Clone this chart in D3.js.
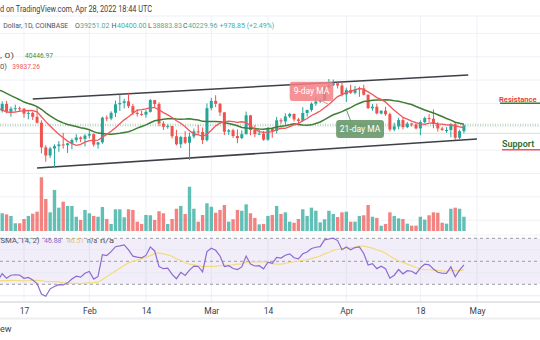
<!DOCTYPE html>
<html><head><meta charset="utf-8">
<script src="https://cdn.jsdelivr.net/npm/d3@7"></script>
<style>html,body{margin:0;padding:0;background:#fff;overflow:hidden}svg{display:block;font-family:Roboto,"Liberation Sans",sans-serif}</style>
</head><body><svg id="c" width="540" height="340"></svg>
<script>
// ---------- DATA ----------
const dates = [
"2022-01-12","2022-01-13","2022-01-14","2022-01-15","2022-01-16","2022-01-17","2022-01-18","2022-01-19","2022-01-20","2022-01-21",
"2022-01-22","2022-01-23","2022-01-24","2022-01-25","2022-01-26","2022-01-27","2022-01-28","2022-01-29","2022-01-30","2022-01-31",
"2022-02-01","2022-02-02","2022-02-03","2022-02-04","2022-02-05","2022-02-06","2022-02-07","2022-02-08","2022-02-09","2022-02-10",
"2022-02-11","2022-02-12","2022-02-13","2022-02-14","2022-02-15","2022-02-16","2022-02-17","2022-02-18","2022-02-19","2022-02-20",
"2022-02-21","2022-02-22","2022-02-23","2022-02-24","2022-02-25","2022-02-26","2022-02-27","2022-02-28",
"2022-03-01","2022-03-02","2022-03-03","2022-03-04","2022-03-05","2022-03-06","2022-03-07","2022-03-08","2022-03-09","2022-03-10",
"2022-03-11","2022-03-12","2022-03-13","2022-03-14","2022-03-15","2022-03-16","2022-03-17","2022-03-18","2022-03-19","2022-03-20",
"2022-03-21","2022-03-22","2022-03-23","2022-03-24","2022-03-25","2022-03-26","2022-03-27","2022-03-28","2022-03-29","2022-03-30","2022-03-31",
"2022-04-01","2022-04-02","2022-04-03","2022-04-04","2022-04-05","2022-04-06","2022-04-07","2022-04-08","2022-04-09","2022-04-10",
"2022-04-11","2022-04-12","2022-04-13","2022-04-14","2022-04-15","2022-04-16","2022-04-17","2022-04-18","2022-04-19","2022-04-20",
"2022-04-21","2022-04-22","2022-04-23","2022-04-24","2022-04-25","2022-04-26","2022-04-27","2022-04-28"];

const opens = [
42735,43920,42590,43100,43180,43110,42250,42380,41700,40700,36470,35075,36280,36680,36970,36850,37170,37730,38160,37920,
38490,38740,36950,37330,41570,41410,42400,43850,44080,44370,43530,42400,42200,42070,42560,44580,43900,40560,40000,40120,38380,37010,38250,37260,38340,39220,39120,37710,
43190,44440,43930,42460,39150,39400,38420,38060,38730,41960,39440,38730,38810,37790,39670,39280,41110,40920,41770,42200,41260,41000,42370,42890,43960,44330,44520,46820,47130,47450,47070,
45530,46290,45810,46400,46580,45500,43170,43440,42280,42760,42160,39530,40070,41150,39940,40550,40400,39720,40800,41500,41370,40480,39710,39440,39450,40440,38120,39251.02];

const highs = [
44350,44450,43450,43800,43480,43200,42700,42580,43500,41100,36850,36560,37000,37550,38950,37250,38000,38730,38360,38740,
39270,38860,37400,41720,41950,42660,44500,45500,44800,45850,43920,43000,42750,42880,44750,44600,44200,40970,40450,40160,39480,38450,39250,39000,39700,40300,39870,44000,
44950,45400,44100,42520,39620,39670,39560,39380,42600,42040,40260,39450,39290,39930,39880,41700,41470,42320,42400,42290,41550,43360,42900,44200,45100,44810,46930,48190,48100,47700,47620,
46700,47220,47000,46890,47200,45520,43900,43950,42800,43430,42420,40700,41550,41500,40850,40700,40600,41100,41750,42200,42980,40800,39990,39940,40620,40800,39480,40400];

const lows = [
42450,42310,41730,42580,42600,41550,41270,41150,40560,35440,34020,34630,32950,35720,36250,35510,36160,37350,37360,36630,
38000,36600,36250,37070,40950,41120,41650,42700,43150,43200,42020,41770,41880,41570,42440,43330,40100,39460,39650,38020,36800,36360,37050,34320,38000,38600,37030,37450,
42820,43350,41850,38600,38600,38100,37180,37880,38660,38550,38240,38660,37600,37600,38120,38850,40500,40140,41500,40900,40500,40860,41750,42590,43580,44100,44420,46650,46950,46570,45200,
44250,45620,45550,45130,45360,43100,42750,42130,42120,41870,39210,39250,39560,39550,39770,40030,39550,38540,40580,40830,39750,39170,39290,38950,38200,37710,37880,38883.83];

const closes = [
43920,42590,43100,43180,43110,42250,42380,41700,40700,36470,35075,36280,36680,36970,36850,37170,37730,38160,37920,38490,
38740,36950,37330,41570,41410,42400,43850,44080,44370,43530,42400,42200,42070,42560,44580,43900,40560,40000,40120,38380,37010,38250,37260,38340,39220,39120,37710,43190,
44440,43930,42460,39150,39400,38420,38060,38730,41960,39440,38730,38810,37790,39670,39280,41110,40920,41770,42200,41260,41000,42370,42890,43960,44330,44520,46820,47130,47450,47070,45530,
46290,45810,46400,46580,45500,43170,43440,42280,42760,42160,39530,40070,41150,39940,40550,40400,39720,40800,41500,41370,40480,39710,39470,39450,40440,38120,39250,40229.96];

// volume, thousand BTC
const volumes = [
13.3,12.5,11.3,5.8,5.8,9,11.3,13,14.5,40.3,24,14,30.8,17.5,22,18.8,18.8,10.7,8.3,15.8,
13.3,11.3,10.7,18,9,5.3,16.3,16.3,10.3,16.3,15.8,7,5.3,12,11.8,8.3,14.8,13.3,5.3,9,16.7,18.8,12.8,33.2,16.7,7,12,20.8,
18.2,13.7,15.8,19.5,7,8.8,15.8,15.2,20,13.3,9.8,5,5.3,11.3,12,18.8,12.8,14,7,6.2,9,16.3,11.3,17.5,15.2,6.5,8.8,15.2,12.8,10.5,14,
14.5,7,7,11.3,11.8,19.5,10.7,9.8,4,5.3,14,11.3,9.5,9,5.5,4,4,10.7,8.5,11.8,14,13.7,6.2,5.5,16.7,17.5,16.7,10.7];

// closes before the first drawn candle (Dec 1 – Jan 11), for the moving averages / RSI
const historyCloses = [57230,56510,53600,49200,49400,50590,50620,50500,47650,47140,49390,50110,46700,48350,48860,47630,46130,46830,46680,46900,48930,48630,50800,50820,50430,50800,50640,47540,46470,47120,46210,47740,47310,46450,45830,43430,43080,41560,41730,41860,41830,42740];

const tickDates = ["2022-01-17","2022-02-01","2022-02-14","2022-03-01","2022-03-14","2022-04-01","2022-04-18","2022-05-01"];
const tickLabels = ["17","Feb","14","Mar","14","Apr","18","May"];
const priceGrid = [24000,28000,32000,36000,40000,44000,48000,52000,56000];
const rsiGrid = [20,40,60];
const rsiBands = [70,50,30];
const upperChannel = [["2022-01-19",44760],["2022-04-29",48880]];
const lowerChannel = [["2022-01-20",32940],["2022-05-01",37900]];
const priceLines = [40446.97,40229.96];
const levelLine = 38880;

// ---------- SETUP ----------
const svg = d3.select("#c");
const W = 540;
const parse = d3.utcParse("%Y-%m-%d");
const D = dates.map(parse);
const x = d3.scaleUtc().domain([parse("2022-01-17"), parse("2022-05-01")]).range([24, 477]);
const y = d3.scaleLinear().domain([32000, 56000]).range([173.46, 33.43]);
const yV = d3.scaleLinear().domain([0, 60]).range([231, 151]);
const yR = d3.scaleLinear().domain([30, 70]).range([284.3, 238.3]);

const UP = "#26a69a", DN = "#ef5350";
const defs = svg.append("defs");
defs.append("clipPath").attr("id","cp").append("rect").attr("x",0).attr("y",16).attr("width",W).attr("height",218);
defs.append("clipPath").attr("id","cr").append("rect").attr("x",0).attr("y",236).attr("width",W).attr("height",65);

const histDates = historyCloses.map((_, k) => d3.utcDay.offset(D[0], k - historyCloses.length));
const allDates = histDates.concat(D);
const allCloses = historyCloses.concat(closes);
function sma(arr, n) {
  return arr.map((_, i) => {
    if (i < n - 1 || arr[i] == null) return null;
    const s = arr.slice(i - n + 1, i + 1);
    if (s.some(v => v == null)) return null;
    return d3.mean(s);
  });
}
function rsi(arr, n) {
  const out = arr.map(() => null);
  let g = 0, l = 0;
  for (let i = 1; i <= n; i++) { const d = arr[i] - arr[i-1]; if (d > 0) g += d; else l -= d; }
  g /= n; l /= n; out[n] = 100 - 100 / (1 + g / l);
  for (let i = n + 1; i < arr.length; i++) {
    const d = arr[i] - arr[i-1];
    g = (g * (n - 1) + Math.max(d, 0)) / n;
    l = (l * (n - 1) + Math.max(-d, 0)) / n;
    out[i] = l === 0 ? 100 : 100 - 100 / (1 + g / l);
  }
  return out;
}
const ma9 = sma(allCloses, 9), ma21 = sma(allCloses, 21);
const rsiV = rsi(allCloses, 14), rsiMA = sma(rsiV, 14);
const startDraw = parse("2022-01-10");
const series = v => allDates.map((d, i) => ({d, v: v[i]})).filter(p => p.v != null && p.d >= startDraw);

// ---------- GRID ----------
const g0 = svg.append("g");
g0.selectAll(".vg").data(tickDates.map(parse)).join("line")
  .attr("x1", d => x(d)).attr("x2", d => x(d)).attr("y1", 16).attr("y2", 301)
  .attr("stroke", "#eef1f7").attr("stroke-width", 1);
g0.append("g").attr("clip-path","url(#cp)").selectAll("line").data(priceGrid).join("line")
  .attr("x1", 0).attr("x2", W).attr("y1", d => y(d)).attr("y2", d => y(d))
  .attr("stroke", "#eef1f7");
g0.append("line").attr("x1",0).attr("x2",W).attr("y1",16).attr("y2",16).attr("stroke","#eceff5");

const gr = svg.append("g").attr("clip-path","url(#cr)");
gr.append("rect").attr("x",0).attr("width",W).attr("y",yR(70)).attr("height",yR(30)-yR(70)).attr("fill","#7e57c2").attr("fill-opacity",0.1);
gr.selectAll(".rg").data(rsiGrid).join("line").attr("x1",0).attr("x2",W)
  .attr("y1", d => yR(d)).attr("y2", d => yR(d)).attr("stroke","#e6e9f1");
gr.selectAll(".rb").data(rsiBands).join("line").attr("x1",0).attr("x2",W)
  .attr("y1", d => yR(d)).attr("y2", d => yR(d)).attr("stroke","#9a9ca5").attr("stroke-dasharray","3,3");

// ---------- PRICE PANE ----------
const gp = svg.append("g").attr("clip-path","url(#cp)");
gp.selectAll(".pl").data(priceLines).join("line").attr("x1",0).attr("x2",W)
  .attr("y1", d => y(d)).attr("y2", d => y(d))
  .attr("stroke","#a5d6a7").attr("stroke-width",1).attr("stroke-dasharray","1,1.5");
gp.append("line").attr("x1",0).attr("x2",W).attr("y1",y(levelLine)).attr("y2",y(levelLine))
  .attr("stroke","#d5ecd5").attr("stroke-width",1.2);

const idx = d3.range(D.length);
gp.selectAll(".vol").data(idx).join("rect")
  .attr("x", i => x(D[i]) - 1.7).attr("width", 3.4)
  .attr("y", i => yV(volumes[i])).attr("height", i => yV(0) - yV(volumes[i]))
  .attr("fill", i => closes[i] >= opens[i] ? UP : DN).attr("fill-opacity", 0.72);

const chan = d3.line().x(p => x(parse(p[0]))).y(p => y(p[1]));
[upperChannel, lowerChannel].forEach(c => gp.append("path").attr("d", chan(c))
  .attr("stroke","#3e4047").attr("stroke-width",1.6).attr("fill","none"));

gp.selectAll(".wick").data(idx).join("line")
  .attr("x1", i => x(D[i])).attr("x2", i => x(D[i]))
  .attr("y1", i => y(highs[i])).attr("y2", i => y(lows[i]))
  .attr("stroke", i => closes[i] >= opens[i] ? UP : DN).attr("stroke-width", 1);
gp.selectAll(".body").data(idx).join("rect")
  .attr("x", i => x(D[i]) - 1.5).attr("width", 3)
  .attr("y", i => y(Math.max(opens[i], closes[i])))
  .attr("height", i => Math.max(1, Math.abs(y(opens[i]) - y(closes[i]))))
  .attr("fill", i => closes[i] >= opens[i] ? UP : DN);

const ln = d3.line().x(p => x(p.d)).y(p => y(p.v));
gp.append("path").attr("d", ln(series(ma21))).attr("fill","none").attr("stroke","#3f7d35").attr("stroke-width",1.5);
gp.append("path").attr("d", ln(series(ma9))).attr("fill","none").attr("stroke","#f0575b").attr("stroke-width",1.3);

function maAt(arr, ds) { const t = parse(ds).getTime(); const i = allDates.findIndex(d => d.getTime() === t); return arr[i]; }
const b9 = {x0: x(parse("2022-03-19")), x1: x(parse("2022-03-29")), y0: y(47700), y1: y(44400)};
svg.append("line").attr("x1", x(parse("2022-03-26"))).attr("y1", b9.y1 - 1)
  .attr("x2", x(parse("2022-03-28"))).attr("y2", y(maAt(ma9, "2022-03-28")))
  .attr("stroke","#f28a8c").attr("stroke-width",1);
svg.append("rect").attr("x", b9.x0).attr("y", b9.y0).attr("width", b9.x1 - b9.x0).attr("height", b9.y1 - b9.y0)
  .attr("rx", 3).attr("fill", "#f27f82").attr("fill-opacity", 0.85);
svg.append("text").attr("x", (b9.x0 + b9.x1) / 2).attr("y", (b9.y0 + b9.y1) / 2 + 3)
  .attr("text-anchor","middle").attr("font-size", 8.5).attr("fill","#fff").text("9-day MA");
const b21 = {x0: x(parse("2022-03-30")) - 1.5, x1: x(parse("2022-04-10")) - 1.5, y0: y(41170), y1: y(38080)};
svg.append("line").attr("x1", x(parse("2022-04-02"))).attr("y1", b21.y0 + 1)
  .attr("x2", x(parse("2022-04-01"))).attr("y2", y(maAt(ma21, "2022-04-01")))
  .attr("stroke","#6f9b70").attr("stroke-width",1);
svg.append("rect").attr("x", b21.x0).attr("y", b21.y0).attr("width", b21.x1 - b21.x0).attr("height", b21.y1 - b21.y0)
  .attr("rx", 3).attr("fill", "#5f9262").attr("fill-opacity", 0.85);
svg.append("text").attr("x", (b21.x0 + b21.x1) / 2).attr("y", (b21.y0 + b21.y1) / 2 + 3)
  .attr("text-anchor","middle").attr("font-size", 8.5).attr("fill","#fff").text("21-day MA");

// Resistance / Support
svg.append("text").attr("x", 499).attr("y", y(44300)).attr("font-size", 7.6).attr("font-weight", 600)
  .attr("fill", "#e53935").text("Resistance");
svg.append("line").attr("x1",500).attr("x2",W).attr("y1",y(44050)).attr("y2",y(44050)).attr("stroke","#3f7d35").attr("stroke-width",1.5);
svg.append("text").attr("x", 502).attr("y", y(36600)).attr("font-size", 9).attr("font-weight", 600)
  .attr("fill", "#2f6b2f").text("Support");
svg.append("line").attr("x1",502).attr("x2",W).attr("y1",y(36050)).attr("y2",y(36050)).attr("stroke","#f0575b").attr("stroke-width",1.5);

// ---------- RSI ----------
const lr = d3.line().x(p => x(p.d)).y(p => yR(p.v));
gr.append("path").attr("d", lr(series(rsiMA))).attr("fill","none").attr("stroke","#f3dc7e").attr("stroke-width",1.2);
gr.append("path").attr("d", lr(series(rsiV))).attr("fill","none").attr("stroke","#8c6bd0").attr("stroke-width",1.2);

svg.append("line").attr("x1",0).attr("x2",W).attr("y1",235).attr("y2",235).attr("stroke","#f0f2f6");

// ---------- AXIS ----------
const ax = svg.append("g").attr("transform","translate(0,302)")
  .call(d3.axisBottom(x).tickValues(tickDates.map(parse)).tickFormat((d, i) => tickLabels[i]).tickSize(0).tickPadding(6));
ax.select(".domain").attr("stroke","#c9ccd4").attr("stroke-width",1.2).attr("d","M0,0H540");
ax.selectAll("text").attr("font-size", 8.5).attr("fill","#3b3f4a").attr("font-family","Roboto,sans-serif");
svg.append("line").attr("x1",0).attr("x2",W).attr("y1",318.5).attr("y2",318.5).attr("stroke","#eceef2").attr("stroke-width",2);
svg.append("text").attr("x",0).attr("y",332).attr("font-size",9).attr("fill","#3b3f4a").text("ew");

// ---------- HEADER TEXT ----------
const grey = "#50535e", teal = "#3fb0a3";
function runs(yb, parts, fs) {
  const t = svg.append("text").attr("y", yb).attr("font-size", fs);
  parts.forEach(p => {
    const s = t.append("tspan").attr("x", p[2]).attr("fill", p[1]).text(p[0]);
    if (p[3]) s.attr("textLength", p[3]).attr("lengthAdjust", "spacingAndGlyphs");
  });
  return t;
}
runs(12, [["d on TradingView.com, Apr 28, 2022 18:44 UTC", "#3b3f4a", 0, 152]], 8.5);
runs(28, [["Dollar, 1D, COINBASE", grey, 3.3, 65],
  ["O", grey, 75], ["39251.02", teal, 80],
  ["H", grey, 111.5], ["40400.00", teal, 117],
  ["L", grey, 148], ["38883.83", teal, 152.5],
  ["C", grey, 183], ["40229.96", teal, 188],
  ["+978.85 (+2.49%)", teal, 219.5]], 7);
runs(58, [[", 0)", grey, 0, 14], ["40446.97", "#3f8f3a", 25, 28]], 8);
runs(68.5, [["0)", grey, 0, 7], ["39837.26", "#f0575b", 12.3, 27.7]], 8);
runs(242.5, [["SMA, 14, 2)", grey, 0.5, 39], ["46.88", "#8c6bd0", 44, 17.5], ["46.51", "#e6c84a", 67, 17],
  ["n/a", grey, 87, 10], ["n/a", grey, 100, 14]], 8);
</script></body></html>
